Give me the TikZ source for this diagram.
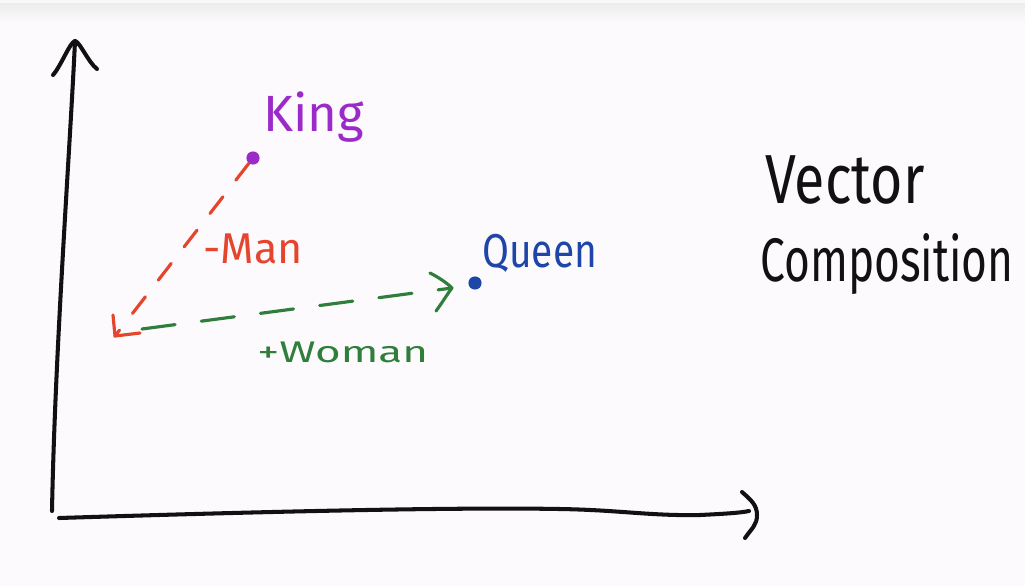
\documentclass[tikz,border=0pt]{standalone}
\usepackage{fontspec}
\setmainfont{Fira Sans}
\definecolor{bgcol}{HTML}{FDFAFD}
\definecolor{bandcol}{HTML}{EBEDEB}
\definecolor{inkblack}{HTML}{111111}
\definecolor{kingpurple}{HTML}{9A2BC9}
\definecolor{manred}{HTML}{E5452D}
\definecolor{womangreen}{HTML}{2F7E3C}
\definecolor{queenblue}{HTML}{1E45A8}
\begin{document}
\begin{tikzpicture}[x=0.02cm,y=-0.02cm,
  axis/.style={draw=inkblack, line width=2.3pt, line cap=round, line join=round},
  redline/.style={draw=manred, line width=1.8pt, line cap=round, dash pattern=on 12pt off 12pt},
  redsolid/.style={draw=manred, line width=1.8pt, line cap=round, line join=round},
  greenline/.style={draw=womangreen, line width=1.8pt, line cap=round, dash pattern=on 19pt off 15pt},
  greensolid/.style={draw=womangreen, line width=1.8pt, line cap=round, line join=round},
  dotnode/.style={circle, inner sep=0pt, minimum size=7.5pt, fill=#1},
  lbl/.style={anchor=base west, inner sep=0pt}]
% background
\fill[bgcol] (0,0) rectangle (1025,586);
\fill[white!60!bandcol] (0,0) rectangle (1025,3);
\shade[top color=bandcol, bottom color=bgcol] (0,3) rectangle (1025,22);
\useasboundingbox (0,0) rectangle (1025,586);

% axes
\coordinate (YB) at (52,511);
\coordinate (YT) at (75,41);
\coordinate (XL) at (59,518);
\coordinate (XR) at (749,511);
\coordinate (XT) at (757,515);
\draw[axis] (YB) .. controls (55,350) and (70,150) .. (YT);
\draw[axis] (YT) ++(-22,34) .. controls +(8,-9) and +(-5,1) .. (YT) .. controls +(5,1) and +(-9,-7) .. ++(22,28);
\draw[axis] (XL) .. controls (250,512) and (450,507) .. (560,509) .. controls (620,510) and (650,516) .. (700,515) .. controls (720,514) and (740,513) .. (XR);
\draw[axis] (XT) ++(-15,-23) .. controls +(9,8) and +(0,-10) .. (XT) .. controls +(0,10) and +(7,-10) .. ++(-12,23);

% points
\node[dotnode=kingpurple] (K) at (253,158) {};
\node[dotnode=queenblue] (Q) at (475,283) {};
\coordinate (O) at (115,336);
\coordinate (GS) at (142,329);
\coordinate (GT) at (452,288);

% -Man vector
\draw[redline] (K) -- (O);
\draw[redsolid] (O) ++(-2,-21) -- (O) -- ++(25,-3);

% +Woman vector
\draw[greenline] (GS) -- (GT);
\draw[greensolid] (GT) ++(-22,-15) .. controls +(10,5) and +(-4,-4) .. (GT) .. controls +(-4,5) and +(6,-8) .. ++(-16,23);

% labels
\node[lbl, text=kingpurple] (kingl) at (263,131) {\fontsize{29}{30}\selectfont King};
\node[lbl, text=manred] (manl) at (203,263) {\fontsize{24.5}{25}\selectfont -Man};
\node[lbl, text=womangreen] (womanl) at (257,362) {\scalebox{1.25}[0.85]{\fontsize{20}{20}\selectfont +Woman}};
\node[lbl, text=queenblue] (queenl) at (482,267) {\scalebox{0.82}[1]{\fontsize{27}{28}\selectfont Queen}};
\node[lbl, text=inkblack] (vecl) at (765,203) {\scalebox{0.8}[1]{\fontsize{39.5}{40}\selectfont Vector}};
\node[lbl, text=inkblack] (compl) at (760,281) {\scalebox{0.72}[1]{\fontsize{35}{36}\selectfont Composition}};
\end{tikzpicture}
\end{document}
